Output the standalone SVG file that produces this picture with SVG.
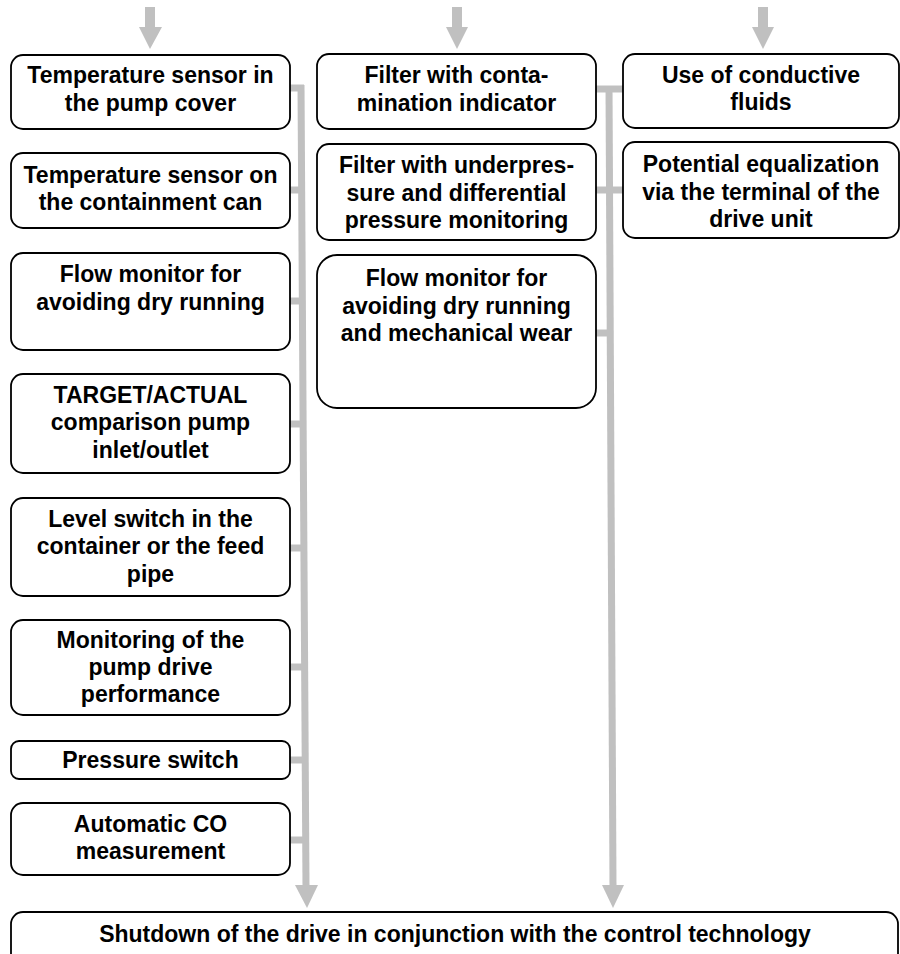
<svg xmlns="http://www.w3.org/2000/svg" width="900" height="954" viewBox="0 0 900 954">
<style>
.box{fill:#fff;stroke:#000;stroke-width:1.8}
.t{font-family:"Liberation Sans",Arial,sans-serif;font-weight:bold;font-size:23px;fill:#000;text-anchor:middle}
.ln{stroke:#c0c0c0;stroke-width:7;fill:none}
.ar{fill:#c0c0c0}
</style>
<rect width="900" height="954" fill="#fff"/>
<g id="connectors">
  <polygon class="ar" points="145,7 155,7 155,27 162,27 150,49 139,27 145,27"/>
  <polygon class="ar" points="452,7 462,7 462,27 468,27 457,49 446,27 452,27"/>
  <polygon class="ar" points="758,7 768,7 768,27 774,27 763,49 752,27 758,27"/>
  <line class="ln" x1="301" y1="85" x2="306" y2="886"/>
  <polygon class="ar" points="295,885 318,885 307,908"/>
  <line class="ln" x1="609" y1="86" x2="613" y2="886"/>
  <polygon class="ar" points="602,885 624,885 613,908"/>
  <line class="ln" x1="290" y1="88" x2="304" y2="88"/>
  <line class="ln" x1="290" y1="190" x2="305" y2="190"/>
  <line class="ln" x1="290" y1="301" x2="305" y2="301"/>
  <line class="ln" x1="290" y1="424" x2="305" y2="424"/>
  <line class="ln" x1="290" y1="548" x2="306" y2="548"/>
  <line class="ln" x1="290" y1="667" x2="306" y2="667"/>
  <line class="ln" x1="290" y1="760" x2="306" y2="760"/>
  <line class="ln" x1="290" y1="840" x2="307" y2="840"/>
  <line class="ln" x1="596" y1="89" x2="623" y2="89"/>
  <line class="ln" x1="596" y1="190" x2="623" y2="190"/>
  <line class="ln" x1="596" y1="333" x2="612" y2="333"/>
</g>
<g id="n1"><rect class="box" x="11" y="55" width="279" height="74" rx="12"/>
<text class="t" x="150.5" y="83">Temperature sensor in</text><text class="t" x="150.5" y="110.5">the pump cover</text></g>
<g id="n2"><rect class="box" x="11" y="153" width="279" height="75" rx="12"/>
<text class="t" x="150.5" y="182.5">Temperature sensor on</text><text class="t" x="150.5" y="210">the containment can</text></g>
<g id="n3"><rect class="box" x="11" y="253" width="279" height="97" rx="12"/>
<text class="t" x="150.5" y="282">Flow monitor for</text><text class="t" x="150.5" y="309.5">avoiding dry running</text></g>
<g id="n4"><rect class="box" x="11" y="374" width="279" height="99" rx="12"/>
<text class="t" x="150.5" y="402.5">TARGET/ACTUAL</text><text class="t" x="150.5" y="430">comparison pump</text><text class="t" x="150.5" y="457.5">inlet/outlet</text></g>
<g id="n5"><rect class="box" x="11" y="498" width="279" height="98" rx="12"/>
<text class="t" x="150.5" y="526.5">Level switch in the</text><text class="t" x="150.5" y="554">container or the feed</text><text class="t" x="150.5" y="581.5">pipe</text></g>
<g id="n6"><rect class="box" x="11" y="620" width="279" height="95" rx="12"/>
<text class="t" x="150.5" y="648">Monitoring of the</text><text class="t" x="150.5" y="675">pump drive</text><text class="t" x="150.5" y="702">performance</text></g>
<g id="n7"><rect class="box" x="11" y="741" width="279" height="38" rx="8"/>
<text class="t" x="150.5" y="767.5">Pressure switch</text></g>
<g id="n8"><rect class="box" x="11" y="803" width="279" height="72" rx="12"/>
<text class="t" x="150.5" y="831.5">Automatic CO</text><text class="t" x="150.5" y="858.5">measurement</text></g>
<g id="m1"><rect class="box" x="317" y="54" width="279" height="75" rx="12"/>
<text class="t" x="456.5" y="82.5">Filter with conta-</text><text class="t" x="456.5" y="110.5">mination indicator</text></g>
<g id="m2"><rect class="box" x="317" y="144" width="279" height="96" rx="12"/>
<text class="t" x="456.5" y="173">Filter with underpres-</text><text class="t" x="456.5" y="200.5">sure and differential</text><text class="t" x="456.5" y="228">pressure monitoring</text></g>
<g id="m3"><rect class="box" x="317" y="255" width="279" height="153" rx="20"/>
<text class="t" x="456.5" y="286">Flow monitor for</text><text class="t" x="456.5" y="313.5">avoiding dry running</text><text class="t" x="456.5" y="341">and mechanical wear</text></g>
<g id="r1"><rect class="box" x="623" y="54" width="276" height="74" rx="12"/>
<text class="t" x="761" y="82.5">Use of conductive</text><text class="t" x="761" y="110">fluids</text></g>
<g id="r2"><rect class="box" x="623" y="142" width="276" height="96" rx="12"/>
<text class="t" x="761" y="172">Potential equalization</text><text class="t" x="761" y="199.5">via the terminal of the</text><text class="t" x="761" y="227">drive unit</text></g>
<g id="bottom"><rect class="box" x="11" y="912" width="887" height="70" rx="12"/>
<text class="t" x="455" y="941.5">Shutdown of the drive in conjunction with the control technology</text></g>
</svg>
